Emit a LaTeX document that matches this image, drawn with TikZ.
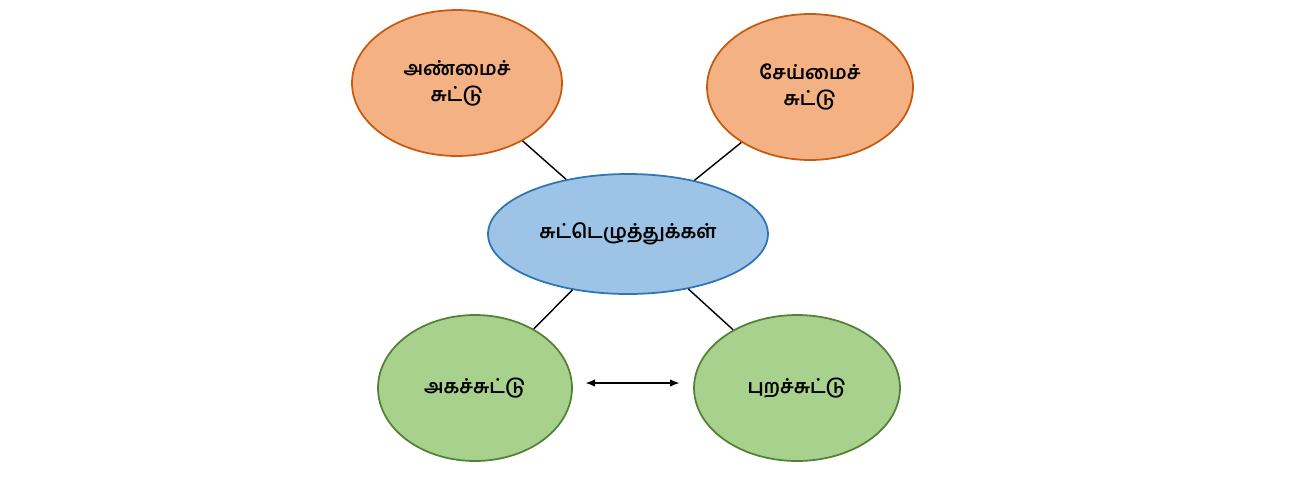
\documentclass[tikz,border=0pt]{standalone}
\usepackage{fontspec}
\newfontfamily\tamilfont[Script=Tamil]{Hind Madurai}
\usetikzlibrary{shapes.geometric,arrows.meta}
\definecolor{orfill}{HTML}{F4B183}
\definecolor{ordraw}{HTML}{C55A11}
\definecolor{blfill}{HTML}{9DC3E6}
\definecolor{bldraw}{HTML}{2E75B6}
\definecolor{grfill}{HTML}{A9D18E}
\definecolor{grdraw}{HTML}{538135}
\begin{document}
\begin{tikzpicture}[
    x=0.02cm, y=-0.02cm,
    % node styles
    base/.style={ellipse, draw, line width=1pt, align=center, inner sep=0pt,
        font=\tamilfont\bfseries\fontsize{11}{15}\selectfont},
    demo/.style={base, fill=orfill, draw=ordraw},
    root/.style={base, fill=blfill, draw=bldraw},
    place/.style={base, fill=grfill, draw=grdraw},
]
\useasboundingbox (0,0) rectangle (1296,478);

% Main nodes
\node[root, minimum width=5.6cm, minimum height=2.4cm] (sutt) at (628,234) {சுட்டெழுத்துக்கள்};
\node[demo, minimum width=4.2cm, minimum height=2.92cm] (anmai) at (457,83) {அண்மைச்\\சுட்டு};
\node[demo, minimum width=4.12cm, minimum height=2.92cm] (seymai) at (810,87) {சேய்மைச்\\சுட்டு};
\node[place, minimum width=3.88cm, minimum height=2.92cm] (aga) at (475,388) {அகச்சுட்டு};
\node[place, minimum width=4.12cm, minimum height=2.92cm] (pura) at (797,388) {புறச்சுட்டு};

\coordinate (l) at (585,383);
\coordinate (r) at (680,383);

% Connectors
\draw[line width=0.8pt] (sutt) -- (anmai);
\draw[line width=0.8pt] (sutt) -- (seymai);
\draw[line width=0.8pt] (sutt) -- (aga);
\draw[line width=0.8pt] (sutt) -- (pura);
\draw[{Latex[length=2mm]}-{Latex[length=2mm]}, line width=1.6pt] (l) -- (r);

\end{tikzpicture}
\end{document}
